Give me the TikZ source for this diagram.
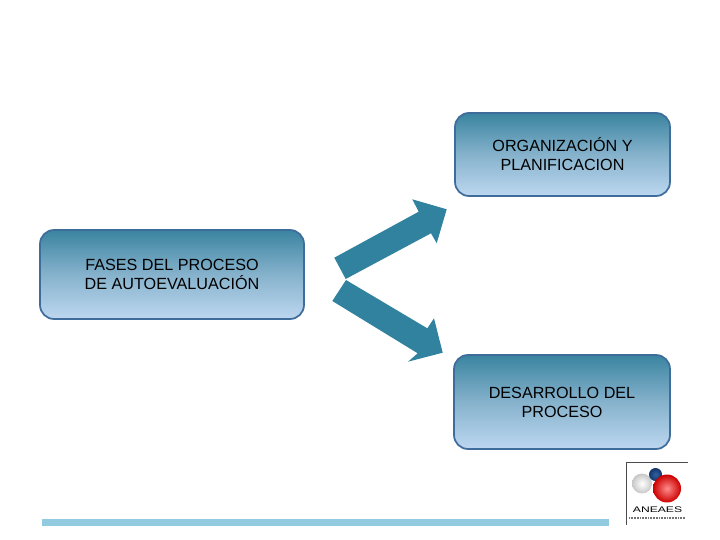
\documentclass[tikz,border=0pt]{standalone}
\usepackage{fontspec}
\setmainfont{Liberation Sans}
\usepackage{tikz}
\usetikzlibrary{arrows.meta,positioning,calc}
\definecolor{tealtop}{HTML}{3A84A0}
\definecolor{tealmid}{HTML}{86B2CC}
\definecolor{bluelow}{HTML}{BDD7F0}
\definecolor{edgeblue}{HTML}{3F6D9B}
\definecolor{arrowteal}{HTML}{31829F}
\definecolor{barblue}{HTML}{92CBE0}
\definecolor{navyhigh}{HTML}{2F62A0}
\definecolor{navylow}{HTML}{14356A}

\begin{document}
\begin{tikzpicture}[
    x=0.02cm, y=-0.02cm,
    phase/.style={draw=edgeblue, line width=1pt, rounded corners=0.28cm,
                  align=center, font=\fontsize{9.2}{10.8}\selectfont, text=black,
                  top color=tealtop, bottom color=bluelow, middle color=tealmid,
                  inner sep=0pt},
    blockarrow/.style={fill=arrowteal, draw=none},
    ball/.style={circle, inner sep=0pt, draw=none},
  ]
  \useasboundingbox (0,0) rectangle (720,540);

  \node[phase, minimum width=5.28cm, minimum height=1.78cm] (fases) at (172,274.5)
    {FASES DEL PROCESO\\DE AUTOEVALUACIÓN};
  \node[phase, minimum width=4.30cm, minimum height=1.66cm] (organiza) at (562.5,154.5)
    {ORGANIZACIÓN Y\\PLANIFICACION};
  \node[phase, minimum width=4.32cm, minimum height=1.88cm] (desarrollo) at (562,402)
    {DESARROLLO DEL\\PROCESO};

  % block arrows
  \fill[blockarrow] (334.3,257.7) -- (345.7,279) -- (431,233.3) -- (436.7,243.3)
    -- (446.7,209.3) -- (412.3,199.3) -- (418.7,211.7) -- cycle;
  \fill[blockarrow] (346,280) -- (332.3,301) -- (417.7,353.3) -- (408,361.7)
    -- (442.7,352.7) -- (434,318.3) -- (427.3,328.3) -- cycle;

  % bottom bar
  \fill[barblue] (42,519) rectangle (609,526);

  % logo
  \draw[black!70, line width=0.3pt] (626.5,525) -- (626.5,462.5) -- (688,462.5);
  \node[ball, minimum size=0.40cm, inner color=white, outer color=black!22] (white) at (642,483.5) {};
  \node[ball, minimum size=0.26cm, inner color=navyhigh, outer color=navylow] (navy) at (655.5,474.5) {};
  \node[ball, minimum size=0.56cm, inner color=red!45!white, outer color=red!80!black] (red) at (667,488.5) {};
  \node[font=\fontsize{4.6}{6}\selectfont, inner sep=0pt, xscale=1.5, transform shape] (aneaes) at (657.5,509.5) {ANEAES};
  \draw[black!55, line width=0.6pt, dash pattern=on 0.5pt off 0.4pt] (629,518) -- (685,518);
\end{tikzpicture}
\end{document}
